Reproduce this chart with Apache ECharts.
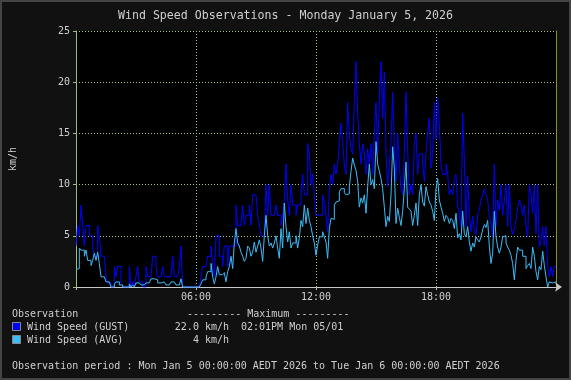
<!DOCTYPE html>
<html>
<head>
<meta charset="utf-8">
<script src="https://cdn.jsdelivr.net/npm/echarts@6/dist/echarts.min.js"></script>
<style>
html,body{margin:0;padding:0;background:#111;}
#chart{width:571px;height:380px;}
</style>
</head>
<body>
<div id="chart"></div>
<script>
// 5-minute samples starting at 00:00 (minutes from midnight = index * 5)
const stepMinutes = 5;
const gustKmh = [
  4,6,5,8,6,4,6,6,5,5,4,3,
  3,6,5,3,3,3,1,0.4,0.4,0,0,2,
  1,2,2,0.5,0,0,0,0,2,0,0.5,0,
  1,2,0.5,0.5,0,0,2,1,1,1,3,3,
  2,1,1,1,2,1,1,1,1,1,3,1,
  1,1,2,4,0,0,0,0,0,0,0,0,
  0,0,0,1,2,2,2,3,3,4,2,1,
  5,5,3,3,2,4,4,2,4,4,4,4,
  8,6,6,6,8,6,7,7,8,6,9,9,
  9,7,6,5,5,5,10,7,10,7,7,7,
  8,7,7,6,7,8.5,12,8.5,7,10,8,8,
  7,8,8,9,11,9,9,14,13,10,11,9,
  7,7,7,7,9,8.2,7,5.4,9.5,11,10,12,
  11,12,14,16,14,12,11,18,15,13.5,13,18,
  22,17,14,12,14,13,11,13.5,12,14,11,15,
  18,13,18.4,22,16.5,21,13,9.8,12,14,19,14,
  10.3,15,12,9.6,9,13,19,13.5,9,10,9,14,
  15,11,13,13,12,10.3,13,15,16.5,11.6,13,18,
  14.4,18.5,16,12,11,11,12,11,9,9.5,9,10.5,
  11,7.9,7,5.9,17,12.4,5.9,10.8,7,5.4,6.9,5.6,
  5.1,7,7.5,8.5,9,9.6,9,8.5,7,6.2,4.9,12,
  5.9,8.5,7.5,10,7,8.5,10,5.9,10,5.9,5.1,5.6,
  6.5,7.8,8.5,8,7,8,5.9,4.9,10,9,7.2,10,
  5.2,10,3.9,4.5,5.9,4,5.9,2,1,2,1,2
];
const avgKmh = [
  1.7,1.8,3.8,3.6,3.6,3,3.6,2.6,2.6,2.1,2.6,3.3,
  2.6,3.4,2.3,1,1,1,0.5,0.5,0.4,0,0,0.3,
  0.5,0.5,0.2,0.2,0,0,0,0,0.3,0,0.2,0,
  0.4,0.4,0.5,0.2,0.2,0.2,0.4,0.4,0.4,0.8,0.8,0.7,
  0.7,0.4,0.4,0.4,0.5,0.5,0.2,0.2,0.2,0.5,0.5,0.5,
  0.2,0.2,0.2,0.8,0,0,0,0,0,0,0,0,
  0,0,0,0.3,0.7,0.7,1,1.5,1.5,2.3,1,0.3,
  1,2,1.2,1.2,1.2,1.4,0.5,1.5,2,3,1.8,4.3,
  5.7,4.3,4,3.4,3,2.5,2.8,4,3.8,3,3.4,4.4,
  3.4,4,4.6,3.8,2.5,5,7,5,4,4.3,3.8,4.3,
  5,3.8,2.8,5.7,3.8,8.2,5.9,4.4,5.4,3.8,4.3,4.3,
  5,3.8,4.8,6.5,5.9,8,6.2,7.7,6.5,5.9,5,4.3,
  3.1,4.1,4.9,4.9,5.4,4.9,4.4,2.8,5.7,6.7,6.6,8,
  8.3,8.4,9.3,9.6,9.6,9.2,9,9.1,9.8,11.3,12.6,11.9,
  11.4,10.3,7.8,8.7,8.2,9,7.2,9.8,12,10,10.5,9.6,
  14.2,12,11.3,10.6,9.6,7.8,5.9,6.9,6.4,9,13.7,11.6,
  6.2,7.7,6.8,6,7.4,9.6,12.2,7.8,7.6,7.4,6,7,
  8.2,6,9,10,8.3,7.9,9.8,9,8.3,8,7.4,6.5,
  9.6,10.6,8.5,7.8,7.2,6.4,7,6.8,6.2,6.7,6.5,5.7,
  7.2,4.8,5.2,4.6,7.4,5.2,4.9,5.9,4.4,3.5,4.3,3.9,
  4.9,4.6,4.4,4.9,5.6,6.1,5.8,6.5,4,2.3,3.3,7.4,
  4.9,3.9,3.3,3.9,4.9,5,4.3,3.9,3.6,3.1,2.3,0.7,
  2.6,3.9,3.6,3.6,3,3,1.8,2.1,2.3,1.8,3.9,3,
  1.5,0.7,2,1.7,3.5,2.1,1,0,0.5,0.4,0.5,0.5
];
const xTickLabels = {360:'06:00', 720:'12:00', 1080:'18:00'};
const yTicks = {min:0, max:25, interval:5};
const titleText = 'Wind Speed Observations - Monday January 5, 2026';
const seriesNames = ['Wind Speed (GUST)', 'Wind Speed (AVG)'];
const maxGustText = '22.0 km/h';
const maxGustTime = '02:01PM Mon 05/01';
const maxAvgText = '4 km/h';
const periodText = 'Observation period : Mon Jan 5 00:00:00 AEDT 2026 to Tue Jan 6 00:00:00 AEDT 2026';

function toPairs(arr){
  const out = arr.map((v,i)=>[i*stepMinutes, v]);
  out.push([arr.length*stepMinutes, arr[arr.length-1]]);
  return out;
}

const MONO = 'DejaVu Sans Mono';
const TXT = '#cfcfcf';
const gustColor = '#0000ff';
const avgColor = '#3cbcf8';
const gridColor = '#a6c88c';

const chart = echarts.init(document.getElementById('chart'), null, {renderer:'canvas'});
chart.setOption({
  backgroundColor:'#111111',
  animation:false,
  title:{
    text:titleText, left:'center', top:5,
    textStyle:{fontFamily:MONO, fontSize:11.6, fontWeight:'normal', color:TXT}
  },
  grid:{left:75, right:15, top:31, bottom:93, show:true, backgroundColor:'#000000', borderWidth:0},
  xAxis:{
    type:'value', min:0, max:1440, interval:360,
    axisLine:{show:true, lineStyle:{color:'#c8c8c8', width:1}, symbol:['none','arrow'], symbolSize:[7,7], symbolOffset:[0,6]},
    axisTick:{show:true, length:3, lineStyle:{color:gridColor}},
    axisLabel:{fontFamily:MONO, fontSize:10, color:TXT, margin:5,
      formatter:v=>xTickLabels[v]||''},
    splitLine:{show:true, showMinLine:false, showMaxLine:false, lineStyle:{color:gridColor, type:[1,2], width:1}}
  },
  yAxis:[{
    type:'value', min:yTicks.min, max:yTicks.max, interval:yTicks.interval,
    name:'km/h', nameLocation:'middle', nameRotate:90, nameGap:58,
    nameTextStyle:{fontFamily:MONO, fontSize:10, color:TXT},
    axisLine:{show:true, lineStyle:{color:'#9cbf70'}},
    axisTick:{show:true, length:3, lineStyle:{color:'#9cbf70'}},
    axisLabel:{fontFamily:MONO, fontSize:10, color:TXT, margin:6},
    splitLine:{show:true, showMinLine:false, lineStyle:{color:gridColor, type:[1,2], width:1}}
  },{
    type:'value', position:'right', min:yTicks.min, max:yTicks.max, interval:yTicks.interval,
    axisLine:{show:true, lineStyle:{color:'#8c8c3c'}},
    axisTick:{show:false}, axisLabel:{show:false}, splitLine:{show:false}
  }],
  series:[
    {name:seriesNames[0], type:'line', step:'end', data:toPairs(gustKmh), symbol:'none',
     lineStyle:{color:gustColor, width:1}, z:3},
    {name:seriesNames[1], type:'line', step:'end', data:toPairs(avgKmh), symbol:'none',
     lineStyle:{color:avgColor, width:1}, z:4}
  ],
  graphic:[
    {type:'rect', shape:{x:1,y:1,width:569,height:378}, style:{fill:'none', stroke:'#444444', lineWidth:2}, silent:true, z:100},
    {type:'text', left:12, top:309, style:{text:'Observation', font:'10px '+MONO, fill:TXT}},
    {type:'text', left:187, top:309, style:{text:'--------- Maximum ---------', font:'10px '+MONO, fill:TXT}},
    {type:'rect', shape:{x:12.5,y:322.5,width:8,height:8}, style:{fill:gustColor, stroke:'#888888', lineWidth:1}},
    {type:'text', left:27, top:322, style:{text:seriesNames[0], font:'10px '+MONO, fill:TXT}},
    {type:'text', x:229, y:322, style:{text:maxGustText, font:'10px '+MONO, fill:TXT, textAlign:'right'}},
    {type:'text', left:241, top:322, style:{text:maxGustTime, font:'10px '+MONO, fill:TXT}},
    {type:'rect', shape:{x:12.5,y:335.5,width:8,height:8}, style:{fill:avgColor, stroke:'#888888', lineWidth:1}},
    {type:'text', left:27, top:335, style:{text:seriesNames[1], font:'10px '+MONO, fill:TXT}},
    {type:'text', x:229, y:335, style:{text:maxAvgText, font:'10px '+MONO, fill:TXT, textAlign:'right'}},
    {type:'text', left:12, top:361, style:{text:periodText, font:'10px '+MONO, fill:TXT}}
  ]
});
</script>
</body>
</html>
